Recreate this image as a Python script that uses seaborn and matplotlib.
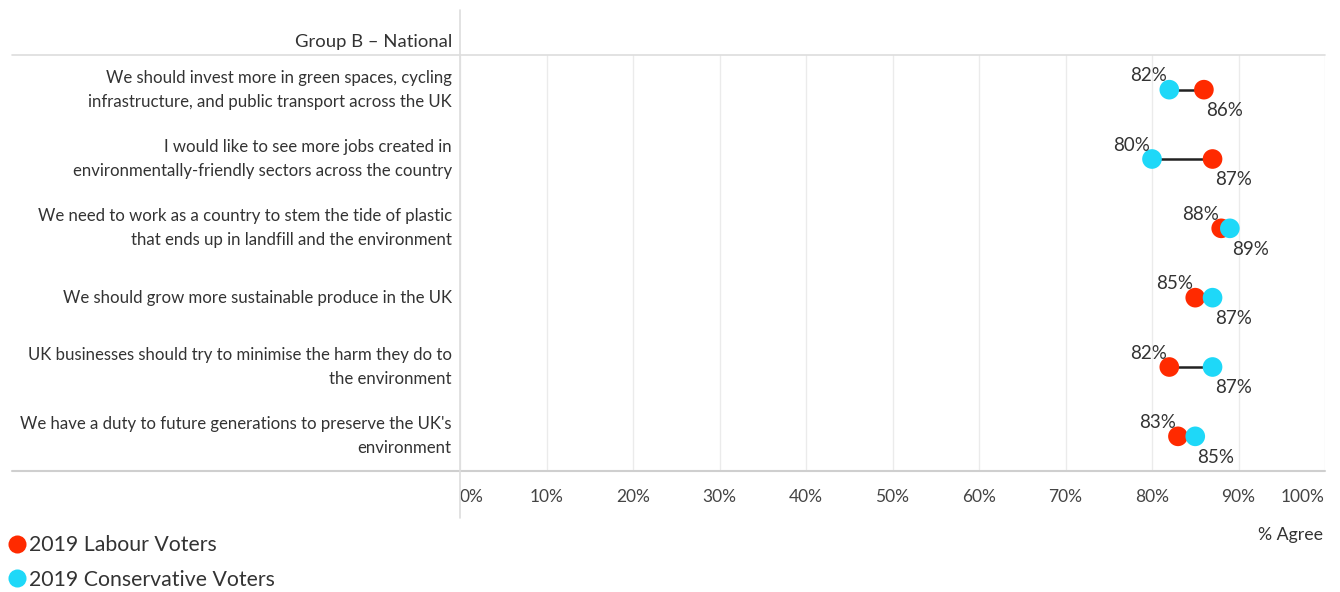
import numpy as np
import pandas as pd
import matplotlib
matplotlib.use("Agg")
import matplotlib.pyplot as plt
import seaborn as sns
from matplotlib.lines import Line2D

# Data
statements = [
    "We should invest more in green spaces, cycling\ninfrastructure, and public transport across the UK",
    "I would like to see more jobs created in\nenvironmentally-friendly sectors across the country",
    "We need to work as a country to stem the tide of plastic\nthat ends up in landfill and the environment",
    "We should grow more sustainable produce in the UK",
    "UK businesses should try to minimise the harm they do to\nthe environment",
    "We have a duty to future generations to preserve the UK's\nenvironment",
]
labour = [86, 87, 88, 85, 82, 83]
conservative = [82, 80, 89, 87, 87, 85]
series_names = ["2019 Labour Voters", "2019 Conservative Voters"]
colors = {"2019 Labour Voters": "#FF2A00", "2019 Conservative Voters": "#1ED8F8"}
x_ticks = [0, 10, 20, 30, 40, 50, 60, 70, 80, 90, 100]

df = pd.DataFrame({
    "statement": statements * 2,
    "value": labour + conservative,
    "group": [series_names[0]] * 6 + [series_names[1]] * 6,
})

sns.set_theme(style="white")
plt.rcParams["font.family"] = ["Lato", "DejaVu Sans"]
text_col = "#333333"

fig = plt.figure(figsize=(13.4, 5.92), dpi=100)
ax = fig.add_axes([460 / 1340, (592 - 471) / 592, (1325 - 460) / 1340, (471 - 55) / 592])

ypos = np.arange(len(statements))
lo = np.minimum(labour, conservative)
hi = np.maximum(labour, conservative)

# connectors
ax.hlines(ypos, lo, hi, color="#222222", lw=1.8, zorder=2)

df["y"] = df["statement"].map({s: i for i, s in enumerate(statements)})
sns.scatterplot(data=df, x="value", y="y", hue="group", palette=colors,
                s=200, edgecolor="none", legend=False, ax=ax, zorder=3)

# value labels: low value above-left, high value below-right
for i in range(len(statements)):
    ax.text(lo[i] - 0.25, ypos[i] - 0.2, f"{lo[i]}%", ha="right", va="center",
            fontsize=13.5, color=text_col)
    ax.text(hi[i] + 0.25, ypos[i] + 0.3, f"{hi[i]}%", ha="left", va="center",
            fontsize=13.5, color=text_col)

ax.set_xlim(0, 100)
ax.set_ylim(len(statements) - 0.5, -0.5)
ax.set_xticks(x_ticks)
ax.set_xticklabels([f"{t}%" for t in x_ticks])
ax.set_yticks(ypos)
ax.set_yticklabels(statements, fontsize=12.1, color=text_col, linespacing=1.6, va="center")
ax.tick_params(axis="x", labelsize=12.5, colors="#444444", pad=13, length=0)
ax.tick_params(axis="y", pad=6, length=0)
xl = ax.get_xticklabels()
xl[0].set_ha("left")
xl[-1].set_ha("right")
ax.grid(axis="x", color="#EBEBEB", lw=1)
ax.set_axisbelow(True)
for sp in ax.spines.values():
    sp.set_visible(False)
ax.set_xlabel("")
ax.set_ylabel("")

# frame lines extending beyond the axes
fx = lambda px: px / 1340
fy = lambda py: (592 - py) / 592
fig.add_artist(Line2D([fx(12), fx(1325)], [fy(55), fy(55)], color="#DDDDDD", lw=1.2))
fig.add_artist(Line2D([fx(12), fx(1325)], [fy(471), fy(471)], color="#CFCFCF", lw=1.5))
fig.add_artist(Line2D([fx(460), fx(460)], [fy(10), fy(518)], color="#DDDDDD", lw=1.2))

fig.text(fx(452), fy(42), "Group B \u2013 National", ha="right", va="center",
         fontsize=13.3, color=text_col)
fig.text(fx(1323), fy(535), "% Agree", ha="right", va="center",
         fontsize=12.8, color=text_col)

handles = [Line2D([0], [0], marker="o", ls="", markersize=13,
                  markerfacecolor=colors[n], markeredgecolor="none") for n in series_names]
fig.legend(handles, series_names, loc="upper left", bbox_to_anchor=(fx(6), fy(535)),
           frameon=False, fontsize=15.3, handletextpad=0.1, labelspacing=0.7,
           borderpad=0, borderaxespad=0, handlelength=1.0, labelcolor=text_col)

fig.savefig("out.png", dpi=100)
